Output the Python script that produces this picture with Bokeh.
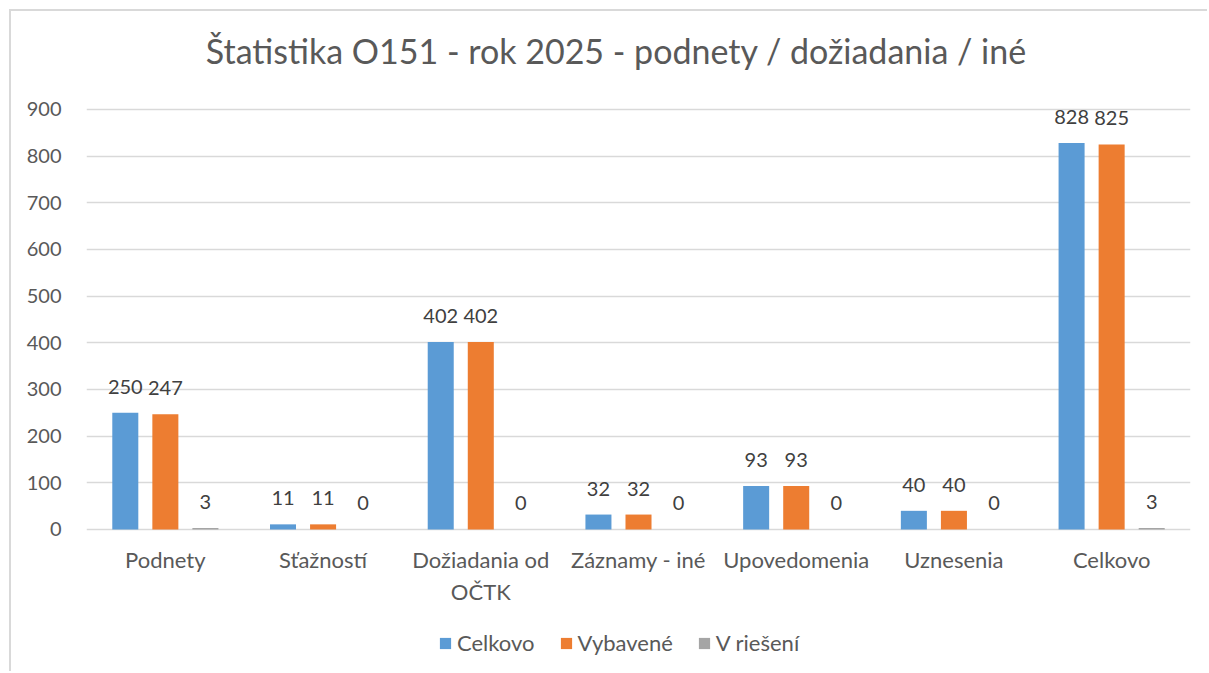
from bokeh.plotting import figure
from bokeh.models import ColumnDataSource, FactorRange, Range1d, Legend, LegendItem, FixedTicker, Label
from bokeh.transform import dodge
from bokeh.core.properties import value
from bokeh.embed import file_html
from bokeh.resources import INLINE

categories = ["Podnety", "Sťažností", "Dožiadania od OČTK", "Záznamy - iné",
              "Upovedomenia", "Uznesenia", "Celkovo"]
category_labels = ["Podnety", "Sťažností", "Dožiadania od\nOČTK", "Záznamy - iné",
                   "Upovedomenia", "Uznesenia", "Celkovo"]
celkovo = [250, 11, 402, 32, 93, 40, 828]
vybavene = [247, 11, 402, 32, 93, 40, 825]
v_rieseni = [3, 0, 0, 0, 0, 0, 3]
series_names = ["Celkovo", "Vybavené", "V riešení"]
y_ticks = [0, 100, 200, 300, 400, 500, 600, 700, 800, 900]
title_text = "Štatistika O151 - rok 2025 - podnety / dožiadania / iné"

FONT = "Lato"
colors = ["#5B9BD5", "#ED7D31", "#A5A5A5"]
offsets = [-0.254, 0.0, 0.254]
bar_w = 0.165
# the plot frame fills the whole canvas height; the value axis keeps 0..900 ticks
Y_MIN, Y_MAX = -308.6, 1110.0

src = ColumnDataSource(dict(
    cat=categories, lab=category_labels, zero=[0] * len(categories),
    s0=celkovo, s1=vybavene, s2=v_rieseni,
    l0=[str(v) for v in celkovo], l1=[str(v) for v in vybavene], l2=[str(v) for v in v_rieseni],
))

p = figure(x_range=FactorRange(*categories), y_range=Range1d(Y_MIN, Y_MAX),
           width=1198, height=662, output_backend="svg", toolbar_location=None,
           x_axis_location=None,
           min_border_left=75, min_border_right=19, min_border_top=0, min_border_bottom=0)
p.styles = {"margin-left": "9px", "margin-top": "9px",
            "border-top": "2px solid #D9D9D9", "border-left": "2px solid #D9D9D9"}

p.add_layout(Label(x=3.36, y=1026, text=title_text, text_align="center", text_baseline="alphabetic",
                   text_font=FONT, text_font_size="34px", text_color="#595959"))

renderers = []
for i, (name, col) in enumerate(zip(series_names, colors)):
    r = p.vbar(x=dodge("cat", offsets[i], range=p.x_range), top="s%d" % i, width=bar_w,
               source=src, fill_color=col, line_color=None)
    renderers.append(r)
    p.text(x=dodge("cat", offsets[i], range=p.x_range), y="s%d" % i, text="l%d" % i, source=src,
           text_align="center", text_baseline="alphabetic", y_offset=-26,
           text_font=value(FONT), text_font_size="20px", text_color="#404040")

# category labels under the zero line
p.text(x="cat", y="zero", text="lab", source=src, text_align="center", text_baseline="top",
       y_offset=17, text_font=value(FONT), text_font_size="22px", text_color="#595959",
       text_line_height=1.155)

p.x_range.range_padding = 0
p.x_range.factor_padding = 0

p.xgrid.grid_line_color = None
p.ygrid.grid_line_color = "#D9D9D9"
p.ygrid.grid_line_width = 1.5
p.yaxis.ticker = FixedTicker(ticks=y_ticks)
ax = p.yaxis[0]
ax.axis_line_color = None
ax.major_tick_line_color = None
ax.minor_tick_line_color = None
ax.major_label_text_font = FONT
ax.major_label_text_color = "#595959"
ax.major_label_text_font_size = "20px"
ax.major_label_standoff = 19
p.outline_line_color = None

legend = Legend(items=[LegendItem(label=n, renderers=[r]) for n, r in zip(series_names, renderers)],
                orientation="horizontal", location=(352, 17),
                label_text_font=FONT, label_text_font_size="22px", label_text_color="#595959",
                glyph_width=14, glyph_height=14, spacing=24, label_standoff=5,
                background_fill_alpha=0, border_line_color=None, padding=0, margin=0)
p.add_layout(legend, "center")

open("out.html", "w").write(file_html(p, INLINE))
